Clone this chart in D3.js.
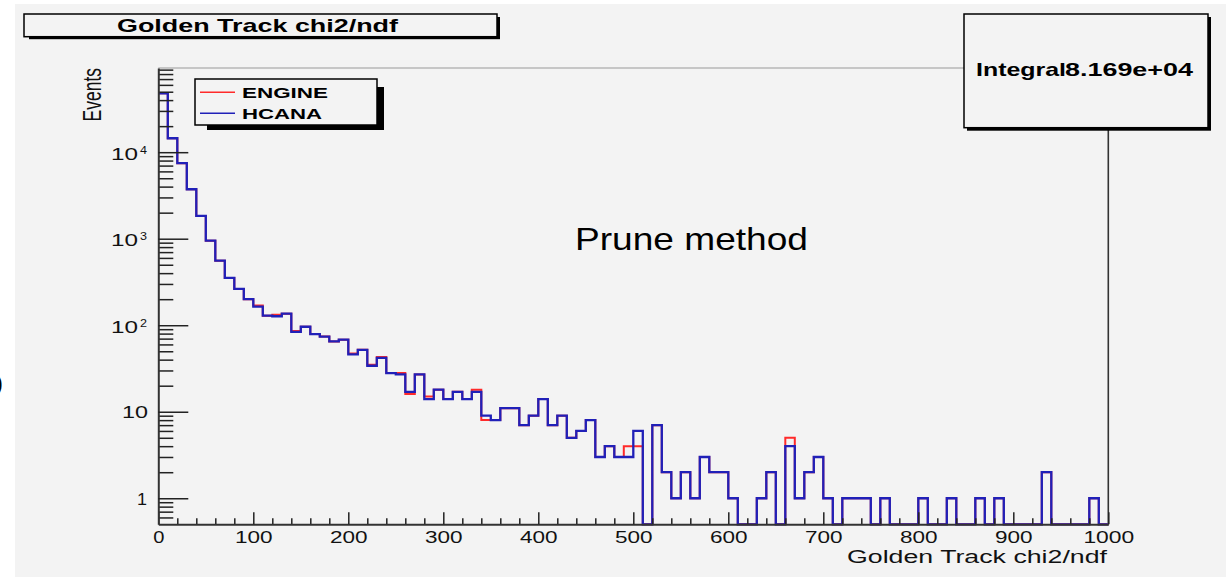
<!DOCTYPE html>
<html>
<head>
<meta charset="utf-8">
<script src="https://cdn.jsdelivr.net/npm/d3@7"></script>
<style>
body { margin:0; background:#fff; }
svg { display:block; font-family:"Liberation Sans", Arial, sans-serif; }
</style>
</head>
<body>
<div class="datavis"><svg></svg></div>
<script>
width = 1226
height = 580

// histogram: 100 bins of width 10 from 0 to 1000
var binWidth = 10
var engine = [
  48000, 14500, 7460, 3730, 1835, 950, 558, 352, 263, 200,
  169, 129, 132, 136, 86, 96, 79, 74, 65, 68,
  47, 52, 35, 43, 28, 28, 16, 27, 15, 18,
  14, 17, 14, 18, 8, 8, 11, 11, 7, 9,
  14, 7, 9, 5, 6, 8, 3, 4, 3, 4,
  4, 0, 7, 2, 1, 2, 1, 3, 2, 2,
  1, 0, 0, 1, 2, 0, 5, 1, 2, 3,
  1, 0, 1, 1, 1, 0, 1, 0, 0, 0,
  1, 0, 0, 1, 0, 0, 1, 0, 1, 0,
  0, 0, 0, 2, 0, 0, 0, 0, 1, 0
]
var hcana = [
  48000, 14500, 7460, 3730, 1835, 950, 558, 352, 263, 200,
  164, 129, 127, 136, 84, 96, 79, 74, 65, 68,
  46, 52, 34, 42, 28, 27, 17, 27, 14, 18,
  14, 17, 14, 17, 9, 8, 11, 11, 7, 9,
  14, 7, 9, 5, 6, 8, 3, 4, 3, 3,
  6, 0, 7, 2, 1, 2, 1, 3, 2, 2,
  1, 0, 0, 1, 2, 0, 4, 1, 2, 3,
  1, 0, 1, 1, 1, 0, 1, 0, 0, 0,
  1, 0, 0, 1, 0, 0, 1, 0, 1, 0,
  0, 0, 0, 2, 0, 0, 0, 0, 1, 0
]
var seriesNames = ["ENGINE", "HCANA"]
var seriesColors = ["#ff2a2a", "#2020b8"]

var xTicksMajor = [0, 100, 200, 300, 400, 500, 600, 700, 800, 900, 1000]
var yDecades = [0, 1, 2, 3, 4]
var yMin = 0.5
var yMax = 94000

var titleText = "Golden Track chi2/ndf"
var xTitle = "Golden Track chi2/ndf"
var yTitle = "Events"
var statLabel = "Integral"
var statValue = "8.169e+04"
var noteText = "Prune method"

var bg = "#f3f3f3"
var margin = { top: 68, right: 117.7, bottom: 55.7, left: 158.3 }

x = d3.scaleLinear().domain([0, 1000]).range([margin.left, width - margin.right])
y = d3.scaleLog().domain([yMin, yMax]).range([height - margin.bottom, margin.top])

svg = d3.select(".datavis > svg").attr("width", width).attr("height", height)

svg.append("rect").attr("width", width).attr("height", height).attr("fill", "#fff")
svg.append("rect").attr("x", 15).attr("y", 4).attr("width", width - 15).attr("height", 573).attr("fill", bg)
svg.append("text").attr("x", -5).attr("y", 391).attr("font-size", 24).text(")")

// boxes with ROOT style shadow
function shadowBox(bx, by, bw, bh, dx, dy, sx, sy) {
  svg.append("rect").attr("x", bx + sx).attr("y", by + sy).attr("width", bw + dx - sx).attr("height", bh + dy - sy).attr("fill", "#000")
  svg.append("rect").attr("x", bx).attr("y", by).attr("width", bw).attr("height", bh)
    .attr("fill", bg).attr("stroke", "#000").attr("stroke-width", 1.5)
}

// frame
svg.append("line").attr("x1", x(0)).attr("x2", x(1000)).attr("y1", y(yMax)).attr("y2", y(yMax)).attr("stroke", "#999").attr("stroke-width", 1)
svg.append("line").attr("x1", x(1000)).attr("x2", x(1000)).attr("y1", y(yMax)).attr("y2", y(yMin)).attr("stroke", "#333").attr("stroke-width", 1.6)

// histograms
function stepPath(vals) {
  var pts = vals.map((v, i) => [i * binWidth, Math.max(v, yMin)])
  pts.push([vals.length * binWidth, Math.max(vals[vals.length - 1], yMin)])
  return d3.line().x(d => x(d[0])).y(d => y(d[1])).curve(d3.curveStepAfter)(pts)
}
svg.selectAll(".hist").data([engine, hcana]).join("path").attr("class", "hist")
  .attr("d", d => stepPath(d))
  .attr("fill", "none")
  .attr("stroke", (d, i) => seriesColors[i])
  .attr("stroke-width", (d, i) => i == 0 ? 2 : 2.3)

// x axis
var xMinor = d3.range(0, 1001, 20).filter(v => v % 100 != 0)
svg.append("g").attr("transform", `translate(0,${y(yMin)})`)
  .call(d3.axisBottom(x).tickValues(xMinor).tickSize(-6).tickSizeOuter(0).tickFormat(""))
  .call(g => g.select(".domain").remove())
  .call(g => g.selectAll("line").attr("stroke", "#222").attr("stroke-width", 1.5))
svg.append("g").attr("transform", `translate(0,${y(yMin)})`)
  .call(d3.axisBottom(x).tickValues(xTicksMajor).tickSize(-12).tickSizeOuter(0).tickFormat(d => String(d)))
  .call(g => g.select(".domain").attr("stroke", "#333").attr("stroke-width", 2))
  .call(g => g.selectAll("line").attr("stroke", "#222").attr("stroke-width", 1.5))
  .call(g => g.selectAll("text").attr("y", 18.3).attr("dy", 0).attr("font-size", 16.5)
    .attr("font-family", "Liberation Sans, Arial, sans-serif").attr("fill", "#111")
    .attr("textLength", d => String(d).length * 13.2 - 2).attr("lengthAdjust", "spacingAndGlyphs"))

// y axis
var yMinor = []
for (let e = -1; e <= 4; e++) {
  for (let k = 2; k <= 9; k++) {
    var v = k * Math.pow(10, e)
    if (v > yMin && v < yMax) yMinor.push(v)
  }
}
svg.append("g").attr("transform", `translate(${x(0)},0)`)
  .call(d3.axisLeft(y).tickValues(yMinor).tickSize(-15).tickSizeOuter(0).tickFormat(""))
  .call(g => g.select(".domain").remove())
  .call(g => g.selectAll("line").attr("stroke", "#222").attr("stroke-width", 1.5))
svg.append("g").attr("transform", `translate(${x(0)},0)`)
  .call(d3.axisLeft(y).tickValues(yDecades.map(e => Math.pow(10, e))).tickSize(-30).tickSizeOuter(0).tickFormat(""))
  .call(g => g.select(".domain").attr("stroke", "#333").attr("stroke-width", 2))
  .call(g => g.selectAll("line").attr("stroke", "#222").attr("stroke-width", 1.5))

var yLab = svg.append("g").attr("font-size", 16.5).attr("fill", "#111")
yDecades.forEach(e => {
  var ty = y(Math.pow(10, e))
  if (e == 0) {
    yLab.append("text").attr("x", 147).attr("y", ty + 6.5).attr("text-anchor", "end")
      .attr("textLength", 10).attr("lengthAdjust", "spacingAndGlyphs").text("1")
  } else if (e == 1) {
    yLab.append("text").attr("x", 148).attr("y", ty + 6.5).attr("text-anchor", "end")
      .attr("textLength", 26).attr("lengthAdjust", "spacingAndGlyphs").text("10")
  } else {
    yLab.append("text").attr("x", 138).attr("y", ty + 7.5).attr("text-anchor", "end")
      .attr("textLength", 27).attr("lengthAdjust", "spacingAndGlyphs").text("10")
    yLab.append("text").attr("x", 140).attr("y", ty + 1.5).attr("font-size", 11)
      .attr("textLength", 7).attr("lengthAdjust", "spacingAndGlyphs").text(e)
  }
})

// axis titles
svg.append("text").attr("x", 1107).attr("y", 563).attr("text-anchor", "end").attr("font-size", 17.5).attr("fill", "#111")
  .attr("textLength", 260).attr("lengthAdjust", "spacingAndGlyphs").text(xTitle)
svg.append("text").attr("transform", "translate(101,68) scale(1.5,1) rotate(-90)")
  .attr("text-anchor", "end").attr("font-size", 17.5).attr("fill", "#111").text(yTitle)

// title box
shadowBox(24, 14, 473, 22.7, 3, 2.5, 5, 3)
svg.append("text").attr("x", 117).attr("y", 32).attr("font-size", 19).attr("font-weight", "bold")
  .attr("textLength", 281).attr("lengthAdjust", "spacingAndGlyphs").text(titleText)

// stats box
shadowBox(964, 14, 244, 113.7, 3, 3, 3, 3)
svg.append("text").attr("x", 976).attr("y", 76).attr("font-size", 19).attr("font-weight", "bold")
  .attr("textLength", 90).attr("lengthAdjust", "spacingAndGlyphs").text(statLabel)
svg.append("text").attr("x", 1193).attr("y", 76).attr("text-anchor", "end").attr("font-size", 19).attr("font-weight", "bold")
  .attr("textLength", 128).attr("lengthAdjust", "spacingAndGlyphs").text(statValue)

// legend
shadowBox(195, 79, 182, 46, 7, 5, 12, 8)
var legW = [86, 80]
var leg = svg.selectAll(".leg").data(seriesNames).join("g").attr("class", "leg")
  .attr("transform", (d, i) => `translate(0,${92.3 + i * 21})`)
leg.append("line").attr("x1", 200).attr("x2", 235).attr("stroke", (d, i) => seriesColors[i]).attr("stroke-width", 1.5)
leg.append("text").attr("x", 242).attr("y", 5.5).attr("font-size", 15.5).attr("font-weight", "bold")
  .attr("textLength", (d, i) => legW[i]).attr("lengthAdjust", "spacingAndGlyphs").text(d => d)

// annotation
svg.append("text").attr("x", 575).attr("y", 250).attr("font-size", 32).attr("fill", "#000")
  .attr("textLength", 233).attr("lengthAdjust", "spacingAndGlyphs").text(noteText)
</script>
</body>
</html>
